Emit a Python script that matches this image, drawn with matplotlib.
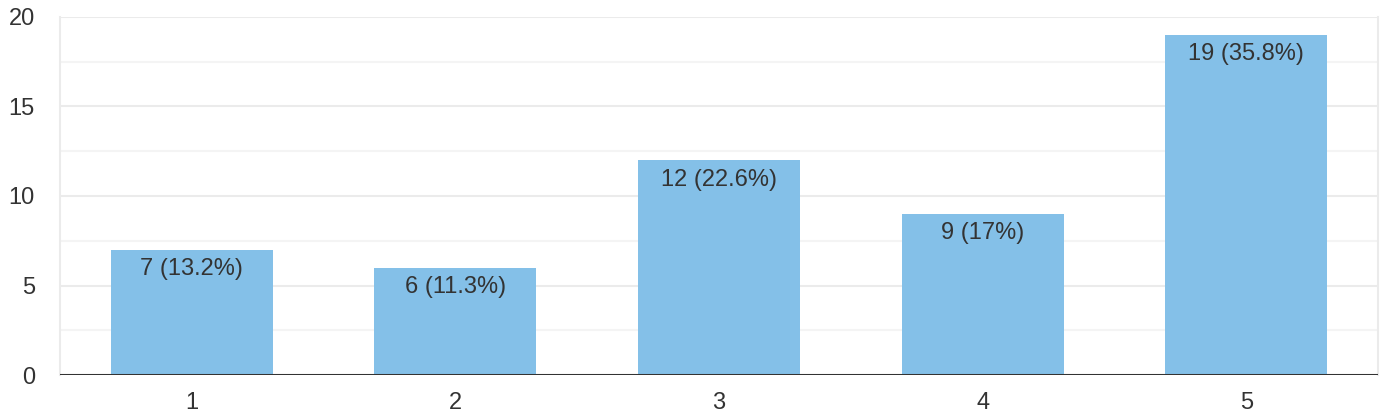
import numpy as np
import matplotlib.pyplot as plt

plt.rcParams['font.family'] = ['Liberation Sans', 'DejaVu Sans']

# survey responses per rating
categories = ['1', '2', '3', '4', '5']
counts = [7, 6, 12, 9, 19]
pct_labels = ['7 (13.2%)', '6 (11.3%)', '12 (22.6%)', '9 (17%)', '19 (35.8%)']
y_ticks = [0, 5, 10, 15, 20]

bar_color = '#84c0e8'
text_color = '#333333'

fig = plt.figure(figsize=(13.84, 4.16), dpi=100)
ax = fig.add_axes([60/1384, 41/416, 1318/1384, 358/416])

x = np.arange(len(categories))
ax.bar(x, counts, width=0.615, color=bar_color, zorder=2)

# gridlines: major every 5, minor every 2.5
for v in np.arange(0, 20.01, 2.5):
    col = '#ebebeb' if v % 5 == 0 else '#f4f4f4'
    ax.axhline(v, color=col, lw=1.5, zorder=0)
ax.axhline(0, color='#333333', lw=2.2, zorder=3)

ax.set_xlim(-0.5, len(categories) - 0.5)
ax.set_ylim(0, 20)
ax.set_xticks(x)
ax.set_xticklabels(categories)
ax.set_yticks(y_ticks)
ax.tick_params(length=0, labelsize=17, colors=text_color)
ax.tick_params(axis='y', pad=18)
ax.tick_params(axis='x', pad=12)

for s in ['top', 'bottom']:
    ax.spines[s].set_visible(False)
for s in ['left', 'right']:
    ax.spines[s].set_color('#ebebeb')
    ax.spines[s].set_linewidth(1.5)

for xi, c, lab in zip(x, counts, pct_labels):
    ax.annotate(lab, (xi, c), xytext=(0, -6), textcoords='offset points',
                ha='center', va='top', fontsize=17, color=text_color, zorder=4)

fig.savefig('out.png', dpi=100)
